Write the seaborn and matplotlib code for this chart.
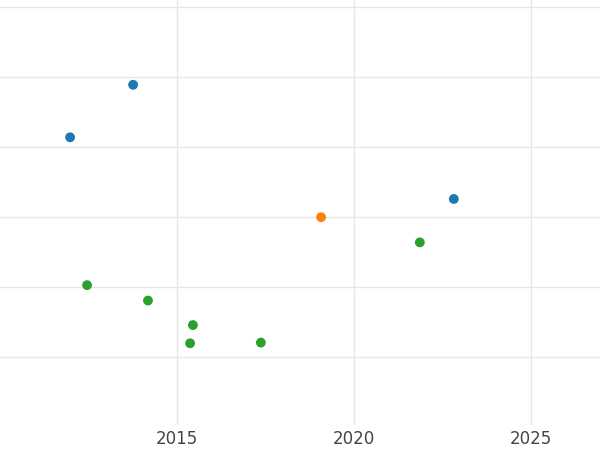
import matplotlib
matplotlib.use("Agg")
import matplotlib.pyplot as plt
import seaborn as sns
import pandas as pd

# values
years = [2011.98, 2013.76, 2022.82, 2019.07, 2021.86, 2012.46, 2014.18, 2015.45, 2015.37, 2017.37]
values = [4.14, 4.89, 3.26, 3.00, 2.64, 2.03, 1.81, 1.46, 1.20, 1.21]
groups = ["A", "A", "A", "B", "C", "C", "C", "C", "C", "C"]
palette = {"A": "#1f77b4", "B": "#ff7f0e", "C": "#2ca02c"}

df = pd.DataFrame({"year": years, "value": values, "group": groups})

sns.set_style("whitegrid")
fig = plt.figure(figsize=(6, 4.5), dpi=100)
ax = fig.add_axes([0, 0.055, 1, 0.945])
sns.scatterplot(data=df, x="year", y="value", hue="group", palette=palette,
                s=50, edgecolor="none", legend=False, ax=ax)

ax.set_xlim(2010, 2026.95)
ax.set_ylim(0.03, 6.1)
ax.set_xticks([2015, 2020, 2025])
ax.set_yticks([1, 2, 3, 4, 5, 6])
ax.set_yticklabels([])
ax.tick_params(axis="y", length=0)
ax.tick_params(axis="x", length=0, labelsize=12, colors="#444444")
ax.grid(color="#e6e6e6", linewidth=1)
ax.set_xlabel("")
ax.set_ylabel("")
for s in ax.spines.values():
    s.set_visible(False)

fig.savefig("out.png", dpi=100)
